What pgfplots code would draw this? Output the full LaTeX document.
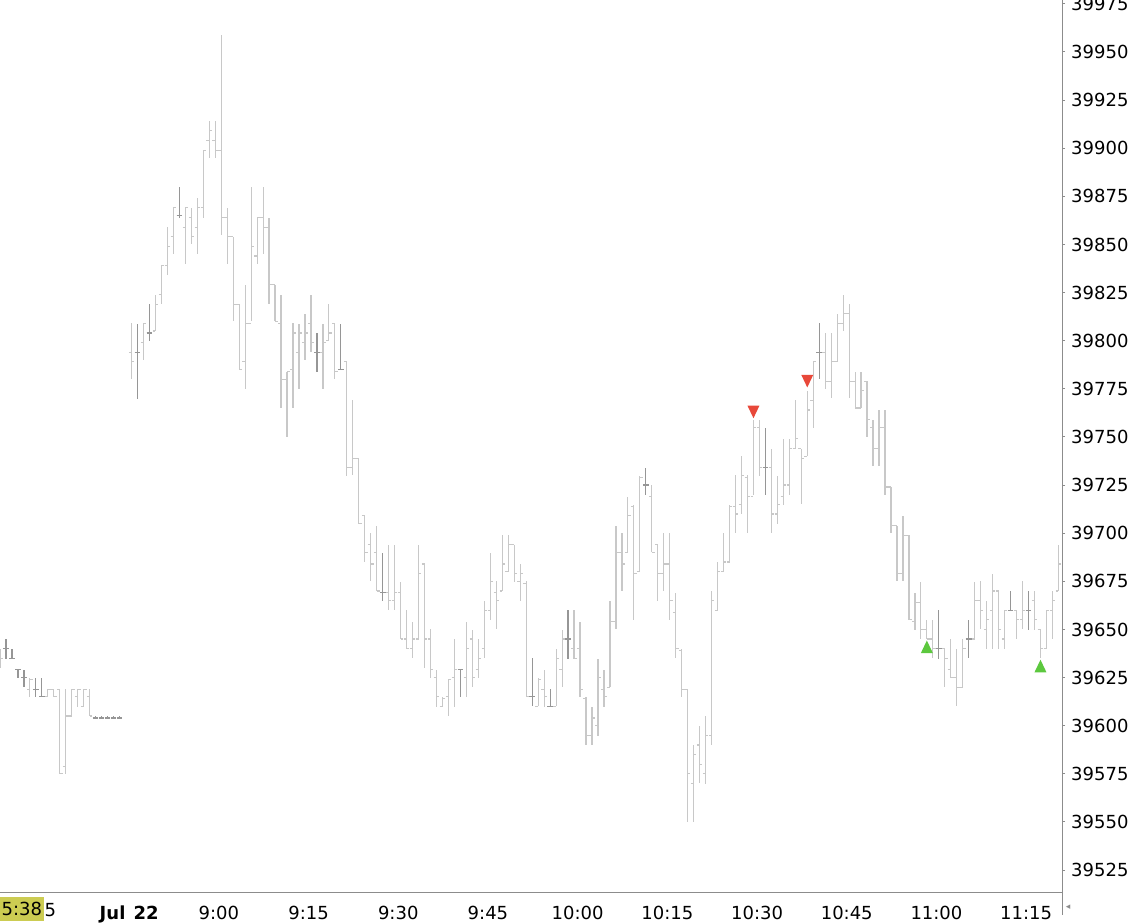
\documentclass[border=0pt]{standalone}
\usepackage{fontspec}
\setmainfont{DejaVu Sans}
\usepackage{pgfplots}
\usepackage{pgfplotstable}
\pgfplotsset{compat=1.18}

\definecolor{barlight}{RGB}{200,200,200}
\definecolor{bardark}{RGB}{150,150,150}
\definecolor{axisgray}{RGB}{140,140,140}
\definecolor{sellred}{RGB}{232,72,58}
\definecolor{buygreen}{RGB}{92,200,62}
\definecolor{hlyellow}{RGB}{204,204,82}

% empty mark, open tick (left), close tick (right)
\pgfdeclareplotmark{nomark}{}
\pgfdeclareplotmark{otick}{\pgfpathmoveto{\pgfqpoint{-2.8pt}{0pt}}\pgfpathlineto{\pgfqpoint{0pt}{0pt}}\pgfusepathqstroke}
\pgfdeclareplotmark{ctick}{\pgfpathmoveto{\pgfqpoint{0pt}{0pt}}\pgfpathlineto{\pgfqpoint{2.8pt}{0pt}}\pgfusepathqstroke}
% signal triangles
\pgfdeclareplotmark{dtri}{\pgfpathmoveto{\pgfqpoint{-6pt}{6.3pt}}\pgfpathlineto{\pgfqpoint{6pt}{6.3pt}}\pgfpathlineto{\pgfqpoint{0pt}{-6.3pt}}\pgfpathclose\pgfusepathqfill}
\pgfdeclareplotmark{utri}{\pgfpathmoveto{\pgfqpoint{-6pt}{-6.3pt}}\pgfpathlineto{\pgfqpoint{6pt}{-6.3pt}}\pgfpathlineto{\pgfqpoint{0pt}{6.3pt}}\pgfpathclose\pgfusepathqfill}

% one-minute bars: index, open, high, low, close, doji flag
\pgfplotstableread{
k o h l c d
-37 39637 39640 39630 39635 0
-36 39640 39645 39635 39640 1
-35 39635 39640 39635 39635 1
-34 39629 39629.5 39625 39629 1
-33 39625 39629 39620 39625 1
-32 39619 39625 39615 39624 0
-31 39619 39625 39615 39619 1
-30 39615 39625 39615 39615 1
-29 39615 39619 39615 39619 0
-28 39619 39619 39615 39615 0
-27 39619 39619 39575 39575 0
-26 39579 39619 39575 39605 0
-25 39605 39619 39605 39619 0
-24 39615 39619 39610 39619 0
-23 39610 39619 39610 39619 0
-22 39615 39619 39605 39605 0
-21 39604 39605 39604 39604 1
-20 39604 39605 39604 39604 1
-19 39604 39605 39604 39604 1
-18 39604 39605 39604 39604 1
-17 39604 39605 39604 39604 1
-15 39794 39809 39780 39789 0
-14 39794 39809 39770 39794 1
-13 39799 39809 39790 39809 0
-12 39804 39819 39800 39804 1
-11 39805 39824 39805 39819 0
-10 39824 39839 39819 39839 0
-9 39839 39859 39834 39849 0
-8 39854 39869 39845 39869 0
-7 39865 39880 39864 39865 1
-6 39859 39869 39840 39869 0
-5 39864 39869 39850 39854 0
-4 39859 39874 39845 39869 0
-3 39869 39899 39864 39899 0
-2 39904 39914 39895 39909 0
-1 39904 39914 39895 39899 0
0 39899 39959 39855 39864 0
1 39864 39869 39840 39854 0
2 39854 39854 39810 39819 0
3 39819 39819 39785 39785 0
4 39789 39829 39775 39809 0
5 39809 39880 39810 39849 0
6 39844 39864 39840 39864 0
7 39864 39880 39845 39859 0
8 39859 39864 39819 39829 0
9 39829 39829 39810 39810 0
10 39809 39824 39765 39780 0
11 39780 39784 39750 39784 0
12 39785 39809 39765 39804 0
13 39794 39809 39775 39804 0
14 39799 39814 39790 39804 0
15 39809 39824 39794 39799 0
16 39794 39804 39784 39794 1
17 39794 39809 39775 39799 0
18 39800 39819 39800 39804 0
19 39809 39809 39780 39784 0
20 39785 39809 39785 39785 1
21 39789 39789 39730 39734 0
22 39734 39769 39730 39739 0
23 39739 39739 39705 39705 0
24 39709 39709 39685 39690 0
25 39694 39700 39675 39684 0
26 39690 39704 39670 39670 0
27 39669 39690 39665 39669 1
28 39669 39694 39660 39665 0
29 39665 39694 39660 39669 0
30 39669 39675 39645 39645 0
31 39645 39660 39640 39640 0
32 39640 39654 39635 39645 0
33 39645 39694 39645 39679 0
34 39684 39684 39630 39645 0
35 39645 39650 39625 39629 0
36 39625 39629 39610 39615 0
37 39610 39615 39610 39614 0
38 39615 39624 39605 39624 0
39 39625 39645 39610 39629 0
40 39629 39629 39615 39629 1
41 39625 39654 39615 39640 0
42 39645 39650 39620 39625 0
43 39629 39645 39625 39635 0
44 39640 39665 39635 39660 0
45 39660 39690 39655 39675 0
46 39669 39675 39650 39665 0
47 39670 39699 39670 39684 0
48 39680 39699 39680 39694 0
49 39694 39694 39675 39679 0
50 39675 39684 39665 39679 0
51 39674 39675 39615 39615 0
52 39615 39635 39610 39615 1
53 39610 39625 39610 39624 0
54 39619 39629 39610 39615 0
55 39610 39619 39610 39610 1
56 39610 39640 39610 39635 0
57 39629 39650 39620 39645 0
58 39645 39660 39635 39645 1
59 39640 39660 39635 39635 0
60 39640 39654 39615 39619 0
61 39614 39615 39590 39595 0
62 39595 39610 39590 39604 0
63 39600 39635 39595 39625 0
64 39619 39629 39610 39615 0
65 39620 39665 39620 39654 0
66 39654 39704 39650 39690 0
67 39690 39700 39670 39684 0
68 39690 39719 39690 39709 0
69 39714 39715 39655 39679 0
70 39680 39730 39680 39729 0
71 39725 39734 39720 39725 1
72 39719 39725 39690 39690 0
73 39694 39694 39665 39679 0
74 39679 39700 39670 39684 0
75 39684 39700 39655 39665 0
76 39659 39669 39635 39640 0
77 39639 39640 39615 39619 0
78 39619 39619 39550 39575 0
79 39570 39590 39550 39585 0
80 39590 39600 39570 39580 0
81 39575 39605 39570 39595 0
82 39595 39670 39590 39665 0
83 39660 39685 39660 39680 0
84 39680 39700 39680 39685 0
85 39685 39715 39685 39714 0
86 39714 39730 39700 39710 0
87 39715 39740 39710 39730 0
88 39729 39730 39700 39719 0
89 39719 39759 39720 39755 0
90 39755 39759 39730 39734 0
91 39734 39755 39720 39734 1
92 39734 39744 39700 39710 0
93 39710 39730 39705 39715 0
94 39719 39749 39715 39725 0
95 39725 39749 39720 39744 0
96 39744 39769 39744 39749 0
97 39744 39744 39715 39739 0
98 39740 39774 39740 39764 0
99 39769 39789 39755 39789 0
100 39794 39809 39780 39794 1
101 39794 39804 39775 39779 0
102 39779 39804 39770 39789 0
103 39789 39814 39789 39809 0
104 39809 39824 39805 39814 0
105 39814 39819 39770 39779 0
106 39779 39784 39765 39765 0
107 39765 39784 39765 39774 0
108 39779 39779 39750 39759 0
109 39755 39759 39735 39744 0
110 39744 39764 39735 39755 0
111 39755 39764 39720 39724 0
112 39724 39724 39700 39704 0
113 39704 39704 39675 39679 0
114 39679 39709 39675 39699 0
115 39699 39699 39655 39655 0
116 39654 39669 39650 39664 0
117 39664 39675 39645 39650 0
118 39650 39655 39645 39645 0
119 39645 39655 39635 39640 0
120 39640 39660 39635 39640 1
121 39640 39640 39620 39635 0
122 39629 39645 39625 39625 0
123 39625 39640 39610 39620 0
124 39620 39645 39620 39640 0
125 39645 39655 39635 39645 1
126 39645 39675 39645 39665 0
127 39665 39675 39650 39660 0
128 39650 39665 39640 39655 0
129 39660 39679 39640 39670 0
130 39670 39670 39640 39650 0
131 39645 39660 39640 39660 0
132 39660 39670 39660 39660 1
133 39660 39660 39645 39655 0
134 39655 39675 39650 39660 0
135 39660 39670 39650 39660 1
136 39665 39670 39650 39655 0
137 39650 39650 39635 39640 0
138 39640 39660 39640 39660 0
139 39660 39670 39645 39665 0
140 39670 39694 39670 39684 0
}\bars

\pgfplotstableread{
k v
89 39763
98 39779
}\sells

\pgfplotstableread{
k v
118 39641
137 39631
}\buys

\begin{document}
\begin{tikzpicture}
\useasboundingbox (0pt,0pt) rectangle (1130pt,923pt);
\begin{axis}[
  name=ax,
  at={(0pt,30pt)}, anchor=south west,
  width=1062pt, height=893pt, scale only axis,
  xmin=-37, xmax=140.6,
  ymin=39513.1, ymax=39977,
  axis x line*=bottom, axis y line*=right,
  axis line style={draw=axisgray, line width=1pt},
  tick align=outside, major tick length=3pt,
  scaled ticks=false,
  xtick={-15.4,-0.4,14.6,29.6,44.6,59.6,74.6,89.6,104.6,119.6,134.6},
  xticklabels={{\bfseries Jul\hspace{0.45em}22},9:00,9:15,9:30,9:45,10:00,10:15,10:30,10:45,11:00,11:15},
  xtick style={draw=none},
  ytick={39525,39550,...,39975},
  yticklabel={\pgfmathprintnumber[fixed, precision=0, 1000 sep={}, assume math mode=true]{\tick}},
  ytick style={draw=axisgray, line width=1pt},
  ticklabel style={font=\fontsize{18}{18}\selectfont},
  xticklabel style={anchor=north, inner sep=0pt, text height=13.1pt, text depth=0pt, yshift=-10pt},
  yticklabel style={anchor=west, inner sep=0pt, xshift=6pt},
]
% high-low lines
\addplot[only marks, mark=nomark, error bars/.cd, y dir=both, y explicit, error mark=none,
  error bar style={draw=barlight, line width=1.2pt}]
  table[x=k, y expr={(\thisrow{h}+\thisrow{l})/2}, y error expr={(\thisrow{h}-\thisrow{l})/2}] {\bars};
\addplot[only marks, mark=otick, draw=barlight, line width=1.2pt] table[x=k, y=o] {\bars};
\addplot[only marks, mark=ctick, draw=barlight, line width=1.2pt] table[x=k, y=c] {\bars};
% doji bars in darker grey
\addplot[only marks, mark=nomark, error bars/.cd, y dir=both, y explicit, error mark=none,
  error bar style={draw=bardark, line width=1.2pt}]
  table[x=k, y expr={\thisrow{d}>0 ? (\thisrow{h}+\thisrow{l})/2 : nan}, y error expr={(\thisrow{h}-\thisrow{l})/2}] {\bars};
\addplot[only marks, mark=otick, draw=bardark, line width=1.2pt] table[x=k, y expr={\thisrow{d}>0 ? \thisrow{o} : nan}] {\bars};
\addplot[only marks, mark=ctick, draw=bardark, line width=1.2pt] table[x=k, y expr={\thisrow{d}>0 ? \thisrow{c} : nan}] {\bars};
% signals
\addplot[only marks, mark=dtri, color=sellred] table[x=k, y=v] {\sells};
\addplot[only marks, mark=utri, color=buygreen] table[x=k, y=v] {\buys};
\end{axis}
\draw[axisgray, line width=1pt] (ax.south east) -- ++(0pt,-22pt);
\node[anchor=north west, inner xsep=1.5pt, inner ysep=0pt, fill=hlyellow, minimum height=24pt,
  text height=13.1pt, text depth=0pt, font=\fontsize{18}{18}\selectfont] at ([yshift=-4pt]ax.south west) {5:38};
\node[anchor=north west, inner sep=0pt, text height=13.1pt, text depth=0pt,
  font=\fontsize{18}{18}\selectfont] at ([xshift=44.3pt, yshift=-10pt]ax.south west) {5};
\node[text=axisgray, inner sep=0pt, font=\fontsize{9}{9}\selectfont] at ([xshift=6pt, yshift=-14pt]ax.south east) {◂};
\end{tikzpicture}
\end{document}
